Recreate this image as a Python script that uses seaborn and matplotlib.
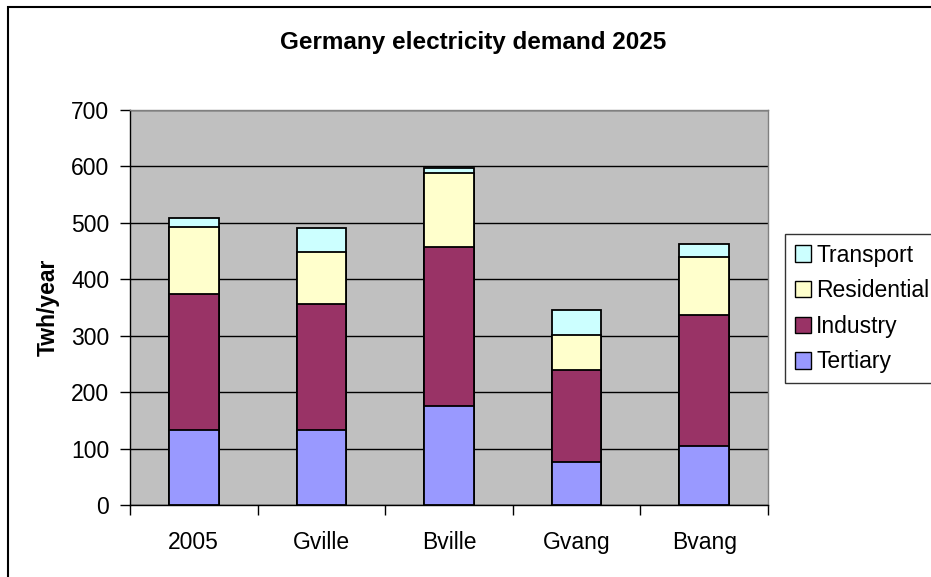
import matplotlib
matplotlib.use("Agg")
import matplotlib.pyplot as plt
from matplotlib.patches import Rectangle, Patch
import numpy as np
import pandas as pd
import seaborn as sns

# Electricity demand by sector per scenario (TWh/year)
scenarios = ["2005", "Gville", "Bville", "Gvang", "Bvang"]
tertiary = [133, 133, 175, 77, 105]
industry = [241, 223, 282, 162, 232]
residential = [119, 93, 131, 62, 103]
transport = [15, 42, 9, 45, 23]

sectors = ["Tertiary", "Industry", "Residential", "Transport"]
colors = {"Tertiary": "#9999FF", "Industry": "#993366",
          "Residential": "#FFFFCC", "Transport": "#CCFFFF"}

df = pd.DataFrame({"Scenario": scenarios, "Tertiary": tertiary,
                   "Industry": industry, "Residential": residential,
                   "Transport": transport})

sns.set_theme(style="white")
plt.rcParams["font.family"] = ["Liberation Sans", "DejaVu Sans"]
plt.rcParams["text.color"] = "black"

fig = plt.figure(figsize=(9.31, 5.77), dpi=100)
ax = fig.add_axes([130 / 931, 1 - 505 / 577, 638 / 931, 395 / 577])
ax.set_facecolor("#C0C0C0")

# Stacked bars: draw cumulative totals from the top layer down
cum = df[sectors].cumsum(axis=1)
for s in reversed(sectors):
    sns.barplot(x=df["Scenario"], y=cum[s], color=colors[s], saturation=1,
                width=0.39, edgecolor="black", linewidth=1.3, ax=ax, zorder=3)

ax.set_ylim(0, 700)
ax.set_xlim(-0.5, 4.5)
ax.set_yticks(range(0, 701, 100))
ax.yaxis.grid(True, color="black", linewidth=1.0, zorder=0)
ax.set_axisbelow(True)

for side in ["top", "right"]:
    ax.spines[side].set_color("#808080")
    ax.spines[side].set_linewidth(1.0)
for side in ["left", "bottom"]:
    ax.spines[side].set_color("black")
    ax.spines[side].set_linewidth(1.0)

ax.tick_params(axis="y", which="both", left=True, length=7, width=1,
               color="black", labelsize=16.5, pad=8, labelcolor="black")
# Category ticks sit on the boundaries between groups
ax.set_xticks(range(5))
ax.set_xticklabels(scenarios)
ax.tick_params(axis="x", which="major", bottom=False, labelsize=16.5,
               pad=13, labelcolor="black")
ax.set_xticks(np.arange(-0.5, 5.0, 1.0), minor=True)
ax.tick_params(axis="x", which="minor", bottom=True, length=7, width=1,
               color="black")

ax.set_xlabel("")
ax.set_ylabel("Twh/year", fontsize=16.5, fontweight="bold", labelpad=8,
              color="black")

fig.text(473 / 931, 1 - 42 / 577, "Germany electricity demand 2025",
         fontsize=17.5, fontweight="bold", ha="center", va="center",
         color="black")

handles = [Patch(facecolor=colors[s], edgecolor="black", linewidth=1.0,
                 label=s) for s in reversed(sectors)]
leg = fig.legend(handles=handles, loc="upper left",
                 bbox_to_anchor=(785 / 931, 1 - 234 / 577),
                 fontsize=16.5, frameon=True, fancybox=False,
                 edgecolor="black", handlelength=0.72, handleheight=0.72,
                 handletextpad=0.22, labelspacing=0.55, borderpad=0.42,
                 borderaxespad=0, labelcolor="black")
leg.get_frame().set_linewidth(1.0)

# Chart-area frame
fig.patches.append(Rectangle((8 / 931, -0.2), 1.2, 1.2 - 7 / 577,
                             transform=fig.transFigure, fill=False,
                             edgecolor="black", linewidth=1.5))

fig.savefig("out.png", dpi=100, facecolor="white")
